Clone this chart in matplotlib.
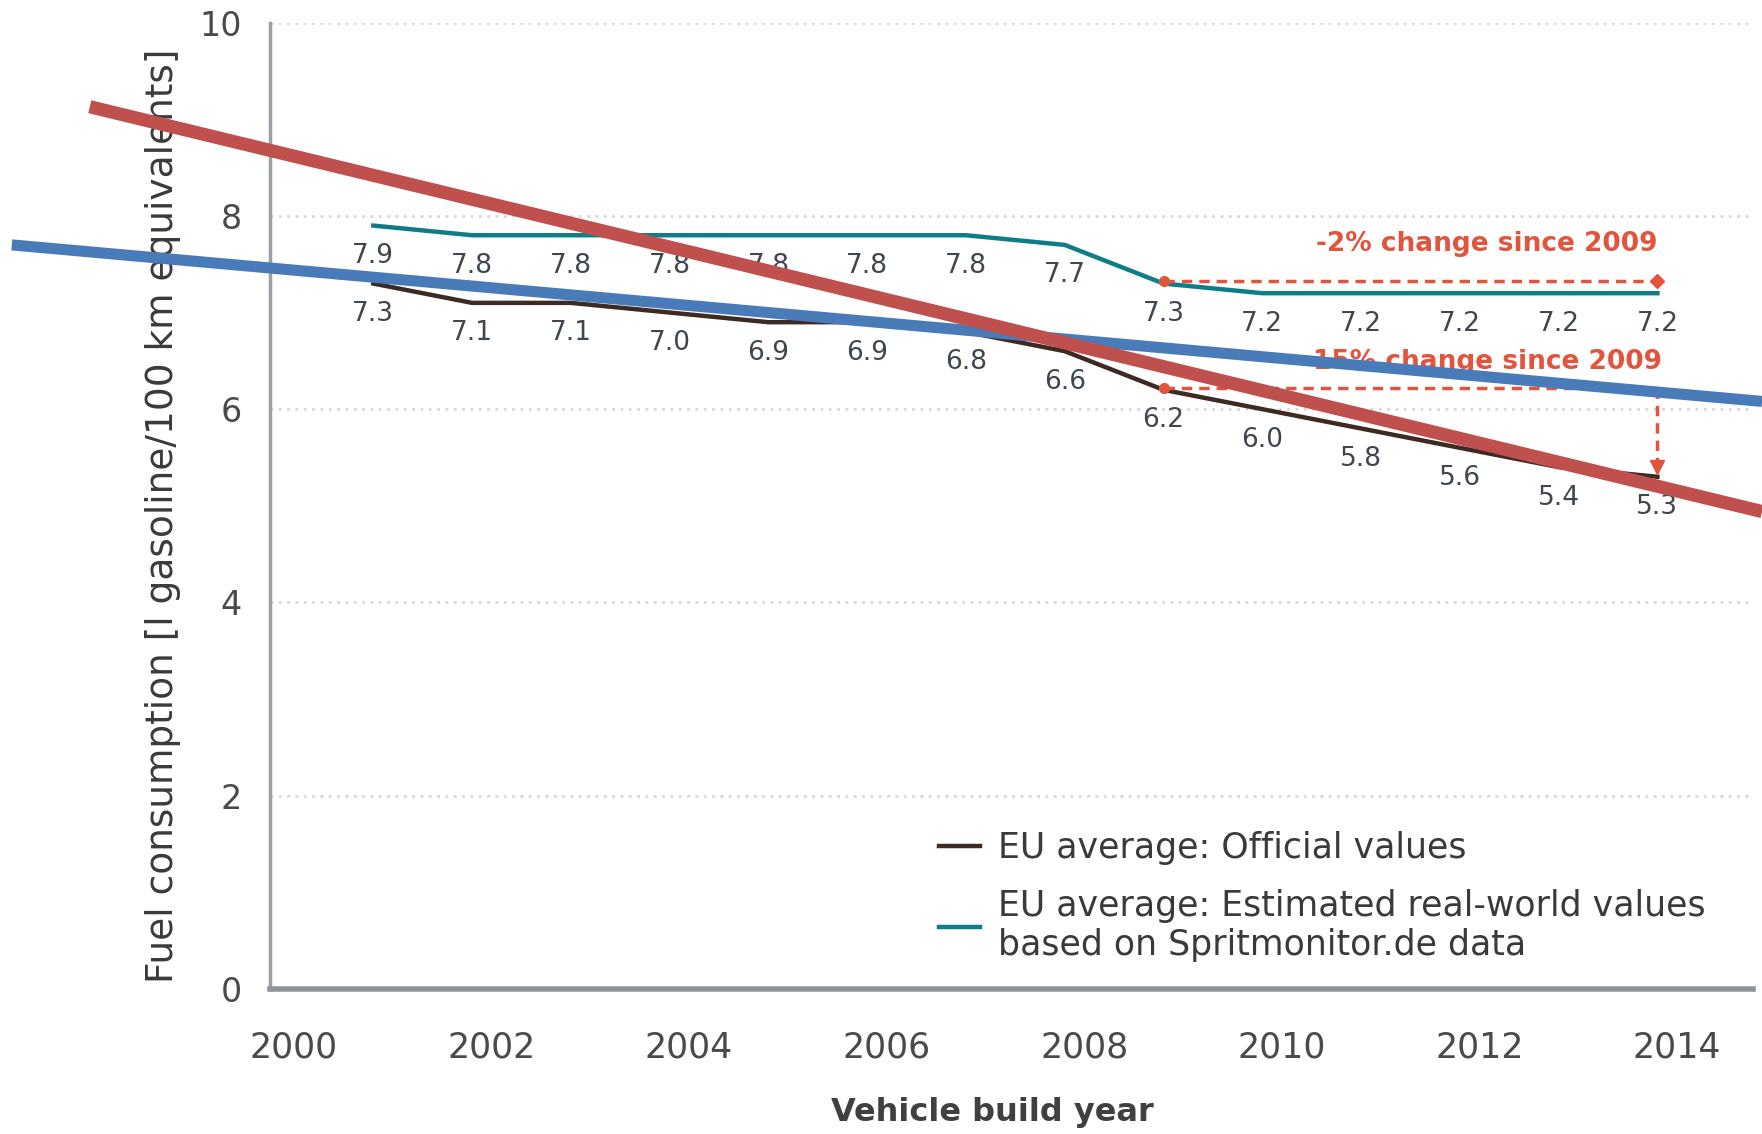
import matplotlib
matplotlib.use("Agg")
import matplotlib.pyplot as plt
import matplotlib.transforms as mtransforms

# build years and values
years = [2001, 2002, 2003, 2004, 2005, 2006, 2007, 2008, 2009, 2010, 2011, 2012, 2013, 2014]
official = [7.3, 7.1, 7.1, 7.0, 6.9, 6.9, 6.8, 6.6, 6.2, 6.0, 5.8, 5.6, 5.4, 5.3]
real_world = [7.9, 7.8, 7.8, 7.8, 7.8, 7.8, 7.8, 7.7, 7.3, 7.2, 7.2, 7.2, 7.2, 7.2]

# the two thick trend strokes drawn over the chart (end points)
red_x = [1998.13, 2015.06]
red_y = [9.13, 4.94]
blue_x = [1997.34, 2015.06]
blue_y = [7.70, 6.08]

tick_years = [2000, 2002, 2004, 2006, 2008, 2010, 2012, 2014]
y_ticks = [0, 2, 4, 6, 8, 10]

c_official = "#3d2a22"
c_real = "#0f7d87"
c_note = "#e2543c"
c_text = "#3e4650"

fig = plt.figure(figsize=(17.62, 11.34), dpi=100)
ax = fig.add_axes([0.153, 0.128, 0.842, 0.852])

# data lines
ax.plot(years, real_world, color=c_real, lw=3.2, label="EU average: Estimated real-world values\nbased on Spritmonitor.de data", zorder=3)
ax.plot(years, official, color=c_official, lw=3.2, label="EU average: Official values", zorder=3)

# value labels under each point
for x, v in zip(years, real_world):
    ax.annotate(f"{v:.1f}", (x, v), xytext=(0, -22), textcoords="offset points",
                ha="center", va="center", fontsize=19, color=c_text)
for x, v in zip(years, official):
    ax.annotate(f"{v:.1f}", (x, v), xytext=(0, -22), textcoords="offset points",
                ha="center", va="center", fontsize=19, color=c_text)

# change since 2009 annotations
y_top = real_world[8] + 0.03
y_bot = official[8] + 0.02
ax.plot([years[8], years[-1]], [y_top, y_top], ls=(0, (3, 2)), color=c_note, lw=2.5, zorder=4)
ax.plot(years[8], y_top, "o", color=c_note, ms=7, zorder=4)
ax.plot(years[-1], y_top, "D", color=c_note, ms=7, zorder=4)
ax.plot([years[8], years[-1]], [y_bot, y_bot], ls=(0, (3, 2)), color=c_note, lw=2.5, zorder=4)
ax.plot(years[8], y_bot, "o", color=c_note, ms=7, zorder=4)
ax.plot([years[-1], years[-1]], [y_bot, official[-1] + 0.05], ls=(0, (3, 2)), color=c_note, lw=2.5, zorder=4)
ax.plot(years[-1], official[-1] + 0.1, "v", color=c_note, ms=10, zorder=4)
ax.text(years[-1], y_top + 0.38, "-2% change since 2009", ha="right", va="center",
        fontsize=19, color=c_note, fontweight="bold")
ax.text(years[-1] + 0.05, y_bot + 0.27, "-15% change since 2009", ha="right", va="center",
        fontsize=19, color=c_note, fontweight="bold")

# thick overlay strokes
ax.plot(red_x, red_y, color="#c0504d", lw=9.5, clip_on=False, solid_capstyle="butt", zorder=6)
ax.plot(blue_x, blue_y, color="#4a7bb9", lw=8, clip_on=False, solid_capstyle="butt", zorder=5)

ax.set_xlim(1999.95, 2014.97)
ax.set_ylim(0, 10)
ax.set_xticks(tick_years)
ax.set_xticklabels([str(t) for t in tick_years])
ax.set_yticks(y_ticks)
ax.set_yticklabels([str(t) for t in y_ticks])
ax.tick_params(axis="x", length=0, pad=30, labelsize=25, labelcolor="#4a4a4a")
ax.tick_params(axis="y", length=0, pad=20, labelsize=24, labelcolor="#4a4a4a")
shift = mtransforms.ScaledTranslation(14 / 72, 0, fig.dpi_scale_trans)
for lab in ax.get_xticklabels():
    lab.set_transform(lab.get_transform() + shift)

for yv in y_ticks[1:]:
    ax.axhline(yv, color="#d8d8d8", lw=2, ls=(0, (1, 2)), zorder=1)

ax.spines["top"].set_visible(False)
ax.spines["right"].set_visible(False)
ax.spines["left"].set_color("#9aa0a4")
ax.spines["left"].set_linewidth(2.5)
ax.spines["bottom"].set_color("#8f9498")
ax.spines["bottom"].set_linewidth(4)

ax.set_ylabel("Fuel consumption [l gasoline/100 km equivalents]", fontsize=27, color="#3a3a3a")
ax.yaxis.set_label_coords(-0.06, 0.49)
ax.set_xlabel("Vehicle build year", fontsize=23, fontweight="bold", color="#404040")
ax.xaxis.set_label_coords(0.487, -0.112)

handles, labels = ax.get_legend_handles_labels()
ax.legend(handles[::-1], labels[::-1], loc="lower left", bbox_to_anchor=(0.43, -0.005),
          frameon=False, fontsize=25, handlelength=1.2, handletextpad=0.5,
          labelspacing=0.7, labelcolor="#3a3a3a")

fig.savefig("out.png", dpi=100)
